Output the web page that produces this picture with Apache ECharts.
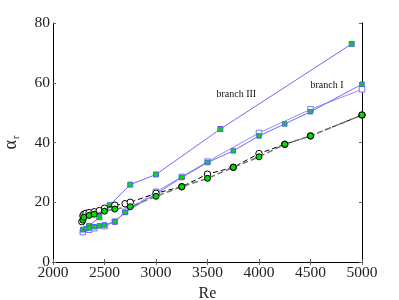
<!DOCTYPE html>
<html><head><meta charset="utf-8">
<script src="https://cdn.jsdelivr.net/npm/echarts@6/dist/echarts.min.js"></script>
<style>html,body{margin:0;padding:0;background:#fff}#c{width:399px;height:300px}</style>
</head><body><div id="c"></div>
<script>
const xTicks = [2000, 2500, 3000, 3500, 4000, 4500, 5000];
const yTicks = [0, 20, 40, 60, 80];

const branch3Re = [2290, 2350, 2450, 2550, 2750, 3000, 3625, 4900];
const branch3A  = [10.2, 12.0, 15.0, 19.0, 25.9, 29.3, 44.5, 73.0];

const branch1gRe = [2290, 2320, 2350, 2400, 2450, 2500, 2600, 2700, 3000, 3250, 3500, 3750, 4000, 4250, 4500, 5000];
const branch1gA  = [10.8, 11.2, 11.4, 11.8, 12.1, 12.4, 13.5, 16.6, 22.8, 28.3, 33.3, 37.2, 42.2, 46.2, 50.3, 59.5];

const branch1oRe = [2290, 2350, 2400, 2500, 2600, 2700, 3000, 3250, 3500, 4000, 4500, 5000];
const branch1oA  = [10.0, 10.8, 11.3, 12.0, 13.5, 16.8, 23.5, 28.5, 33.6, 43.2, 51.1, 57.8];

const circOpenRe = [2280, 2290, 2300, 2320, 2350, 2400, 2450, 2500, 2600, 2700, 2750, 3000, 3250, 3500, 3750, 4000, 4250, 4500, 5000];
const circOpenA  = [13.5, 15.5, 16.0, 16.3, 16.5, 16.8, 17.2, 18.0, 19.0, 19.5, 20.0, 23.0, 25.2, 29.4, 31.7, 36.3, 39.4, 42.2, 49.2];

const circFillRe = [2290, 2300, 2350, 2400, 2500, 2600, 2750, 3000, 3250, 3500, 3750, 4000, 4250, 4500, 5000];
const circFillA  = [14.0, 15.0, 15.6, 16.0, 17.0, 17.7, 18.5, 22.0, 25.2, 28.0, 31.7, 35.2, 39.4, 42.2, 49.2];

const labels = [
  {text: 'branch III', re: 3780, a: 56.0},
  {text: 'branch I', re: 4660, a: 59.0}
];

function pairs(xs, ys){ return xs.map((x,i)=>[x, ys[i]]); }

const chart = echarts.init(document.getElementById('c'), null, {renderer:'canvas'});
const serif = 'Liberation Serif';
const blue = '#6a6aff';
const green = '#00dd00';

const axisCommon = {
  type:'value', splitLine:{show:false},
  axisLine:{show:true, lineStyle:{color:'#000', width:1}},
  axisTick:{show:true, inside:true, length:3, lineStyle:{color:'#666'}},
};

chart.setOption({
  animation:false,
  grid:{left:53, right:37, top:23, bottom:38, containLabel:false, outerBoundsMode:'none'},
  xAxis:[
    Object.assign({}, axisCommon, {min:2000, max:5000, interval:500, position:'bottom',
      name:'Re', nameLocation:'middle', nameGap:21,
      nameTextStyle:{fontFamily:serif, fontSize:16, color:'#222'},
      axisLabel:{fontFamily:serif, fontSize:15.5, color:'#222', margin:3,
        formatter:v=>xTicks.includes(v)?String(v):''}}),
    Object.assign({}, axisCommon, {min:2000, max:5000, interval:500, position:'top', axisLabel:{show:false}})
  ],
  yAxis:[
    Object.assign({}, axisCommon, {min:0, max:80, interval:20, position:'left',
      name:'{a|α}{b|r}', nameLocation:'middle', nameRotate:90, nameGap:32,
      nameTextStyle:{rich:{
        a:{fontFamily:serif, fontSize:18, color:'#222', lineHeight:20, verticalAlign:'middle'},
        b:{fontFamily:serif, fontSize:10, color:'#222', lineHeight:20, verticalAlign:'bottom', padding:[6,0,0,1]}
      }},
      axisLabel:{fontFamily:serif, fontSize:15.5, color:'#222', margin:3,
        formatter:v=>yTicks.includes(v)?String(v):''}}),
    Object.assign({}, axisCommon, {min:0, max:80, interval:20, position:'right', axisLabel:{show:false}})
  ],
  series:[
    {type:'line', data:pairs(branch3Re, branch3A), symbol:'rect', symbolSize:5,
      lineStyle:{color:blue, width:1}, itemStyle:{color:green, borderColor:'#5a5aff', borderWidth:1}, z:2},
    {type:'line', data:pairs(branch1oRe, branch1oA), symbol:'rect', symbolSize:5.5,
      lineStyle:{color:'#8c8cff', width:1}, itemStyle:{color:'#fff', borderColor:'#7878ff', borderWidth:1}, z:2},
    {type:'line', data:pairs(branch1gRe, branch1gA), symbol:'rect', symbolSize:4.5,
      lineStyle:{color:blue, width:1}, itemStyle:{color:green, borderColor:'#5a5aff', borderWidth:1}, z:3},
    {type:'line', data:pairs(circOpenRe, circOpenA), symbol:'circle', symbolSize:6.5,
      lineStyle:{color:'#000', width:1, type:[5,3]}, itemStyle:{color:'#fff', borderColor:'#000', borderWidth:1}, z:4},
    {type:'line', data:pairs(circFillRe, circFillA), symbol:'circle', symbolSize:6,
      lineStyle:{color:'#777', width:1.5, type:[6,3]}, itemStyle:{color:green, borderColor:'#000', borderWidth:1}, z:5}
  ]
});

const g = labels.map(l=>{
  const p = chart.convertToPixel({xAxisIndex:0, yAxisIndex:0}, [l.re, l.a]);
  return {type:'text', x:p[0], y:p[1], style:{text:l.text, fontFamily:serif, fontSize:10, fill:'#111', align:'center', verticalAlign:'middle'}};
});
chart.setOption({graphic:g});
</script></body></html>
